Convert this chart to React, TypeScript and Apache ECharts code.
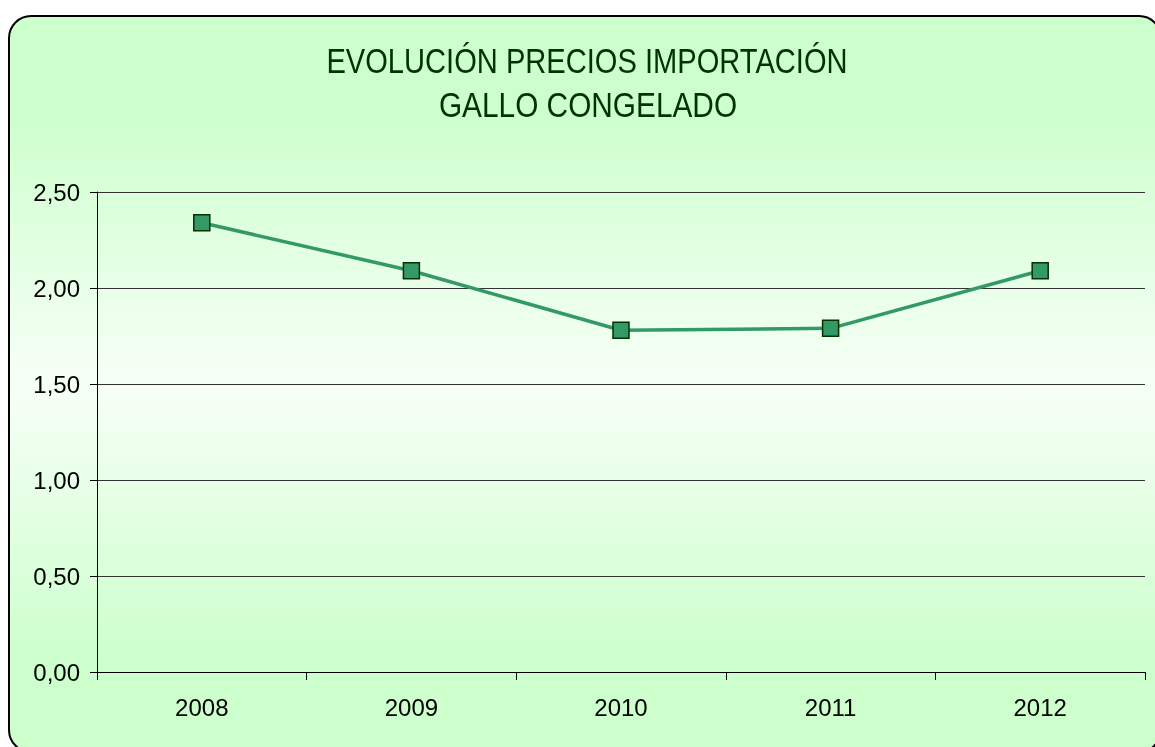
import React, { useEffect, useRef } from "react";
import * as echarts from "echarts";

const categories = ["2008", "2009", "2010", "2011", "2012"];
const prices = [2.34, 2.09, 1.78, 1.79, 2.09];
const titleLines = ["EVOLUCIÓN PRECIOS IMPORTACIÓN", "GALLO CONGELADO"];

export default function App() {
  const ref = useRef<HTMLDivElement>(null);
  useEffect(() => {
    const chart = echarts.init(ref.current!, null, { renderer: "svg" });
    const option = {
      animation: false,
      graphic: [
        {
          type: "rect",
          z: -10,
          silent: true,
          shape: { x: 9, y: 16, width: 1152, height: 736, r: 22 },
          style: {
            fill: new echarts.graphic.LinearGradient(0, 0, 0, 1, [
              { offset: 0, color: "#ccffcc" },
              { offset: 0.12, color: "#ccffcc" },
              { offset: 0.5, color: "#f7fff7" },
              { offset: 0.88, color: "#ccffcc" },
              { offset: 1, color: "#ccffcc" },
            ]),
            stroke: "#000",
            lineWidth: 2,
          },
        },
        {
          type: "text",
          x: 587,
          y: 61,
          scaleX: 0.82,
          style: {
            text: titleLines[0],
            fontFamily: "Liberation Sans",
            fontSize: 35.5,
            fill: "#003300",
            textAlign: "center",
            textVerticalAlign: "middle",
          },
        },
        {
          type: "text",
          x: 588,
          y: 105,
          scaleX: 0.84,
          style: {
            text: titleLines[1],
            fontFamily: "Liberation Sans",
            fontSize: 35.5,
            fill: "#003300",
            textAlign: "center",
            textVerticalAlign: "middle",
          },
        },
      ],
      grid: { left: 97, top: 192, right: 10, bottom: 75, containLabel: false },
      xAxis: {
        type: "category",
        data: categories,
        boundaryGap: true,
        axisLine: { show: true, lineStyle: { color: "#000", width: 1 } },
        axisTick: { show: true, length: 8, lineStyle: { color: "#000" } },
        axisLabel: {
          color: "#000",
          fontFamily: "Liberation Sans",
          fontSize: 24,
          margin: 23,
        },
        splitLine: { show: false },
      },
      yAxis: {
        type: "value",
        min: 0,
        max: 2.5,
        interval: 0.5,
        axisLine: { show: true, lineStyle: { color: "#000", width: 1 } },
        axisTick: { show: true, length: 7, lineStyle: { color: "#000" } },
        axisLabel: {
          color: "#000",
          fontFamily: "Liberation Sans",
          fontSize: 24,
          margin: 17,
          formatter: (v: number) => v.toFixed(2).replace(".", ","),
        },
        splitLine: { show: true, lineStyle: { color: "#333", width: 1 } },
      },
      series: [
        {
          type: "line",
          data: prices,
          symbol: "rect",
          symbolSize: 16,
          lineStyle: { color: "#339966", width: 3.5 },
          itemStyle: { color: "#339966", borderColor: "#003300", borderWidth: 1.5 },
        },
      ],
    };
    chart.setOption(option as any);
    return () => chart.dispose();
  }, []);
  return (
    <div
      ref={ref}
      style={{ position: "fixed", left: 0, top: 0, width: 1155, height: 747 }}
    />
  );
}
